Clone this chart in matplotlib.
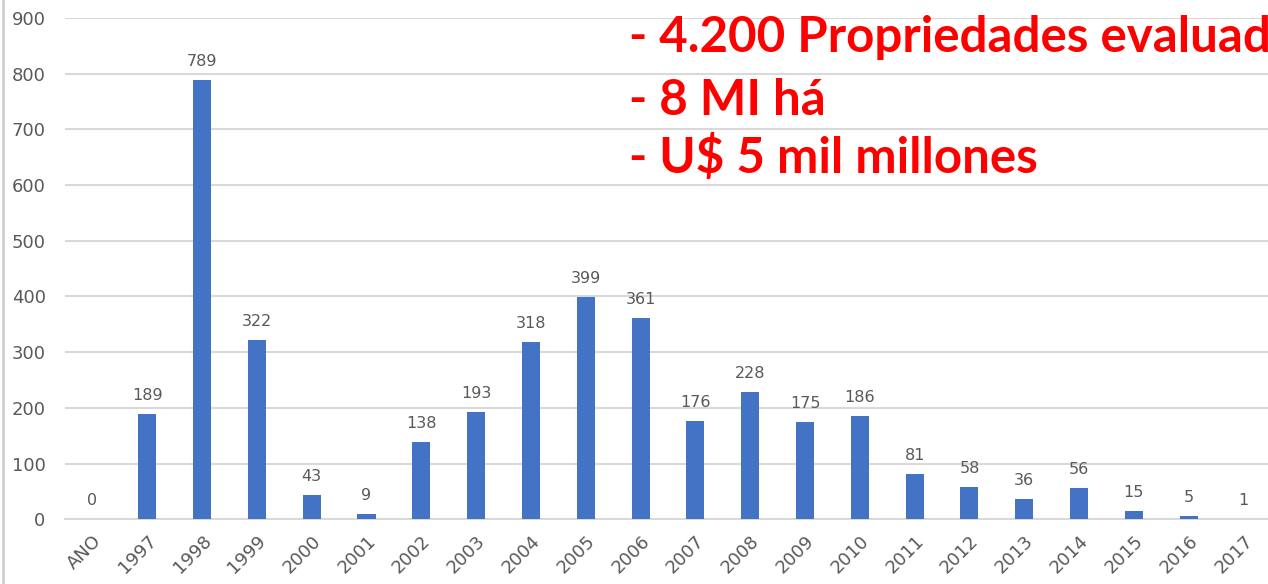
import matplotlib.pyplot as plt
from matplotlib.lines import Line2D

# Chart data
categories = ["ANO", "1997", "1998", "1999", "2000", "2001", "2002", "2003", "2004",
              "2005", "2006", "2007", "2008", "2009", "2010", "2011", "2012", "2013",
              "2014", "2015", "2016", "2017"]
values = [0, 189, 789, 322, 43, 9, 138, 193, 318, 399, 361, 176, 228, 175, 186,
          81, 58, 36, 56, 15, 5, 1]
notes = ["- 4.200 Propriedades evaluadas", "- 8 MI há", "- U$ 5 mil millones"]

bar_color = "#4472C4"
grid_color = "#d9d9d9"
text_color = "#595959"

fig = plt.figure(figsize=(12.68, 5.84), dpi=100)
ax = fig.add_axes([0.0513, 0.111, 0.951, 0.858])

x = range(len(categories))
ax.bar(x, values, width=0.33, color=bar_color, zorder=3)

# data labels
for i, v in enumerate(values):
    ax.annotate(str(v), (i, v), xytext=(0, 8), textcoords="offset points",
                ha="center", va="bottom", fontsize=11.5, color=text_color)

ax.set_xlim(-0.5, len(categories) - 0.5)
ax.set_ylim(0, 900)
ax.set_yticks(range(0, 901, 100))
ax.yaxis.grid(True, color=grid_color, linewidth=1.5, zorder=0)
ax.set_xticks(list(x))
ax.set_xticklabels(categories, rotation=45, ha="right", rotation_mode="anchor")
ax.tick_params(axis="both", length=0, labelsize=13, labelcolor=text_color)
ax.tick_params(axis="x", pad=9)
ax.tick_params(axis="y", pad=14)
for side in ["top", "right", "left"]:
    ax.spines[side].set_visible(False)
ax.spines["bottom"].set_color(grid_color)
ax.spines["bottom"].set_linewidth(1.5)

# left border line of the slide
fig.add_artist(Line2D([0.002, 0.002], [0, 1], color="#d0d0d0", linewidth=2,
                      transform=fig.transFigure))

# red overlay text (runs off the right edge as in the slide)
ys = [0.911, 0.803, 0.704]
for note, yy in zip(notes, ys):
    fig.text(0.496, yy, note, color="#ff0000", fontsize=35.5, fontweight="bold",
             family=["Lato", "DejaVu Sans"], va="baseline")

fig.savefig("out.png", dpi=100)
